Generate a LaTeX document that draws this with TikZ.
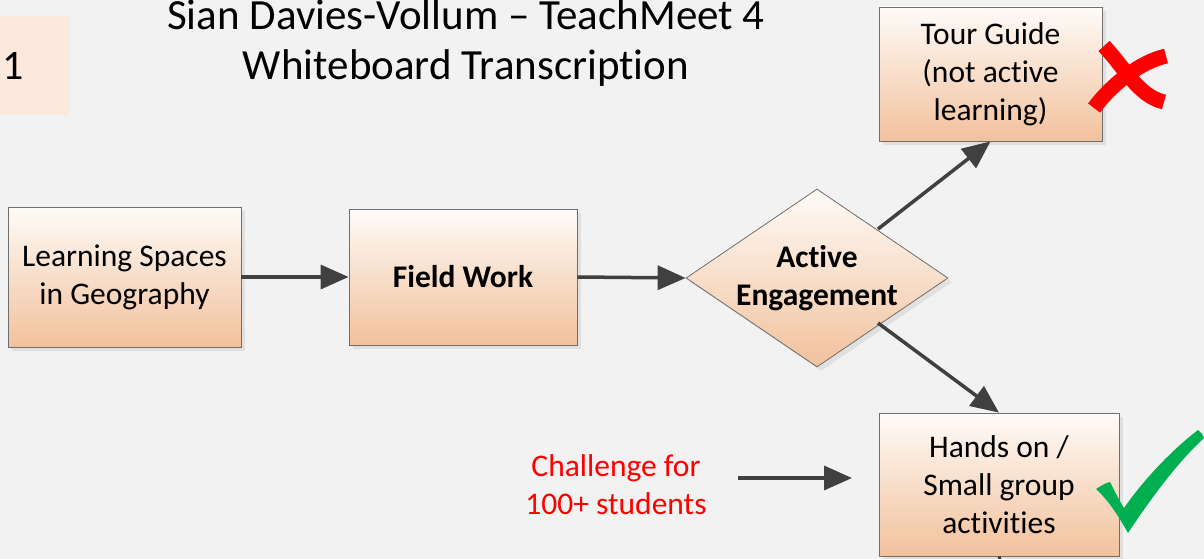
\documentclass[tikz,border=0pt]{standalone}
\usepackage{fontspec}
\setmainfont[Ligatures=NoCommon]{Carlito}
\usetikzlibrary{arrows.meta,shapes.geometric,shadows}
\definecolor{bg}{RGB}{242,242,242}
\definecolor{boxtop}{RGB}{254,251,248}
\definecolor{boxbot}{RGB}{242,193,156}
\definecolor{boxline}{RGB}{110,110,110}
\definecolor{arr}{RGB}{64,64,64}
\definecolor{numbg}{RGB}{252,233,221}
\definecolor{chk}{RGB}{0,176,80}
\tikzset{
  box/.style={rectangle, draw=boxline, line width=0.8pt, top color=boxtop, bottom color=boxbot,
    align=center, font=\fontsize{31.5}{38}\selectfont, inner sep=0pt,
    drop shadow={shadow xshift=4pt, shadow yshift=-4pt, fill=black!12, opacity=1}},
  dia/.style={diamond, draw=boxline, line width=0.8pt, top color=boxtop, bottom color=boxbot,
    align=center, font=\fontsize{31.5}{38}\selectfont\bfseries, inner sep=0pt, aspect=1.47,
    drop shadow={shadow xshift=4pt, shadow yshift=-4pt, fill=black!12, opacity=1}},
  conn/.style={draw=arr, line width=3.5pt, -{Triangle[length=28pt,width=24pt]}},
}
\begin{document}
\begin{tikzpicture}[x=1pt,y=-1pt]
\fill[bg] (0,0) rectangle (1204,559);
\useasboundingbox (0,0) rectangle (1204,559);
% number box
\fill[numbg] (0,16) rectangle (70,115);
\node[anchor=west, font=\fontsize{42}{48}\selectfont, inner sep=0pt] (num) at (2,66) {1};
% title
\node[align=center, font=\fontsize{43}{50}\selectfont, inner sep=0pt] (title) at (466,43)
  {Sian Davies-Vollum -- TeachMeet 4\\Whiteboard Transcription};
% boxes
\node[box, minimum width=233pt, minimum height=140pt] (ls) at (124.5,277) {Learning Spaces\\in Geography};
\node[box, minimum width=228pt, minimum height=136pt, font=\fontsize{31.5}{38}\selectfont\bfseries] (fw) at (463,277) {Field Work};
\node[dia, minimum width=262pt, minimum height=178pt] (ae) at (817,278) {Active\\Engagement};
\node[box, minimum width=223pt, minimum height=134pt] (tg) at (990.5,74) {Tour Guide\\(not active\\learning)};
\node[box, minimum width=240pt, minimum height=143pt] (ho) at (999,484.5) {Hands on /\\Small group\\activities};
\node[align=center, text=red, font=\fontsize{31.5}{38}\selectfont, inner sep=0pt] (ch) at (616,485) {Challenge for\\100+ students};
% connectors
\coordinate (chs) at (738,478);
\coordinate (che) at (852,478);
\coordinate (aeup) at (878,229);
\coordinate (aedn) at (878,323);
\coordinate (hoend) at (1000,560);
\draw[conn] (ls.east) -- (fw.west);
\draw[conn] (fw.east) -- (ae.west);
\draw[conn] (aeup) -- (tg.south);
\draw[conn] (aedn) -- (ho.north);
\draw[conn] (chs) -- (che);
\draw[draw=arr, line width=3pt] (ho.south) -- (hoend);
% red cross
\draw[red, line width=15pt] (1104,46) .. controls (1125,68) and (1138,96) .. (1164,102);
\draw[red, line width=15pt] (1166,56) .. controls (1140,62) and (1112,84) .. (1094,108);
% green check
\fill[chk] (1096,489) .. controls (1102,485) and (1106,483) .. (1110,482)
  .. controls (1114,490) and (1119,500) .. (1124,508)
  .. controls (1145,478) and (1172,450) .. (1198,430)
  .. controls (1201,432) and (1203,435) .. (1204,438)
  .. controls (1175,465) and (1150,500) .. (1128,533)
  .. controls (1118,515) and (1108,500) .. (1096,489) -- cycle;
\end{tikzpicture}
\end{document}
